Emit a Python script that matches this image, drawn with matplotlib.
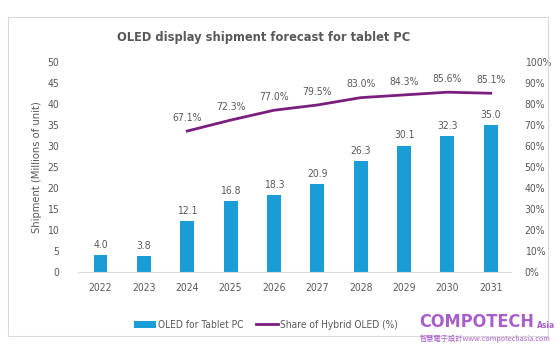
import matplotlib.pyplot as plt
from matplotlib.patches import Rectangle

plt.rcParams['font.stretch'] = 'condensed'

years = ['2022', '2023', '2024', '2025', '2026', '2027', '2028', '2029', '2030', '2031']
shipments = [4.0, 3.8, 12.1, 16.8, 18.3, 20.9, 26.3, 30.1, 32.3, 35.0]
share_years = ['2024', '2025', '2026', '2027', '2028', '2029', '2030', '2031']
share = [67.1, 72.3, 77.0, 79.5, 83.0, 84.3, 85.6, 85.1]

bar_color = '#1a9dd6'
line_color = '#7a1f7e'
txt = '#595959'

fig = plt.figure(figsize=(5.6, 3.5), dpi=100)
fig.patches.append(Rectangle((8 / 560, 1 - 336 / 350), 540 / 560, 319 / 350,
                             transform=fig.transFigure, fill=False,
                             edgecolor='#d9d9d9', linewidth=0.8))

ax = fig.add_axes([0.14, 0.223, 0.772, 0.6])
x = list(range(len(years)))
bars = ax.bar(x, shipments, width=0.32, color=bar_color, label='OLED for Tablet PC', zorder=2)
for xi, v in zip(x, shipments):
    ax.text(xi, v + 1.2, f'{v:.1f}', ha='center', va='bottom', fontsize=7.5, color=txt)

ax.set_ylim(0, 50)
ax.set_yticks(range(0, 51, 5))
ax.set_xlim(-0.51, 9.46)
ax.set_xticks(x)
ax.set_xticklabels(years)
ax.tick_params(axis='both', length=0, labelsize=7.5, colors=txt)
ax.tick_params(axis='x', pad=8)
ax.tick_params(axis='y', pad=14)
for s in ['top', 'right', 'left']:
    ax.spines[s].set_visible(False)
ax.spines['bottom'].set_color('#d9d9d9')
ax.set_ylabel('Shipment (Millions of unit)', fontsize=8, color=txt, labelpad=4)

ax2 = ax.twinx()
xs = [years.index(y) for y in share_years]
line, = ax2.plot(xs, share, color=line_color, linewidth=2, label='Share of Hybrid OLED (%)')
for xi, v in zip(xs, share):
    ax2.text(xi, v + 4, f'{v:.1f}%', ha='center', va='bottom', fontsize=7.5, color=txt)
ax2.set_ylim(0, 100)
ax2.set_yticks(range(0, 101, 10))
ax2.set_yticklabels([f'{t}%' for t in range(0, 101, 10)])
ax2.tick_params(axis='y', length=0, labelsize=7.5, colors=txt, pad=10)
for s in ax2.spines.values():
    s.set_visible(False)

fig.text(264 / 560, 1 - 38 / 350, 'OLED display shipment forecast for tablet PC',
         ha='center', va='center', fontsize=9.2, fontweight='bold', color='#595959')

fig.legend([bars, line], ['OLED for Tablet PC', 'Share of Hybrid OLED (%)'],
           loc='center', bbox_to_anchor=(266 / 560, 1 - 325 / 350), ncol=2, frameon=False,
           fontsize=7.3, labelcolor=txt, handlelength=2.2, handletextpad=0.2,
           columnspacing=1.2)

# watermark
fig.text(419 / 560, 1 - 322 / 350, 'COMPOTECH', fontsize=13, color='#a95fcb',
         fontweight='bold', va='center', ha='left')
fig.text(537 / 560, 1 - 326 / 350, 'Asia', fontsize=6, color='#a95fcb',
         fontweight='bold', va='center', ha='left')
fig.text(420 / 560, 1 - 339 / 350, '智慧電子設計www.compotechasia.com', fontsize=5.2,
         color='#a95fcb', va='center', ha='left', family=['Noto Sans CJK TC', 'DejaVu Sans'])

fig.savefig('out.png', dpi=100)
